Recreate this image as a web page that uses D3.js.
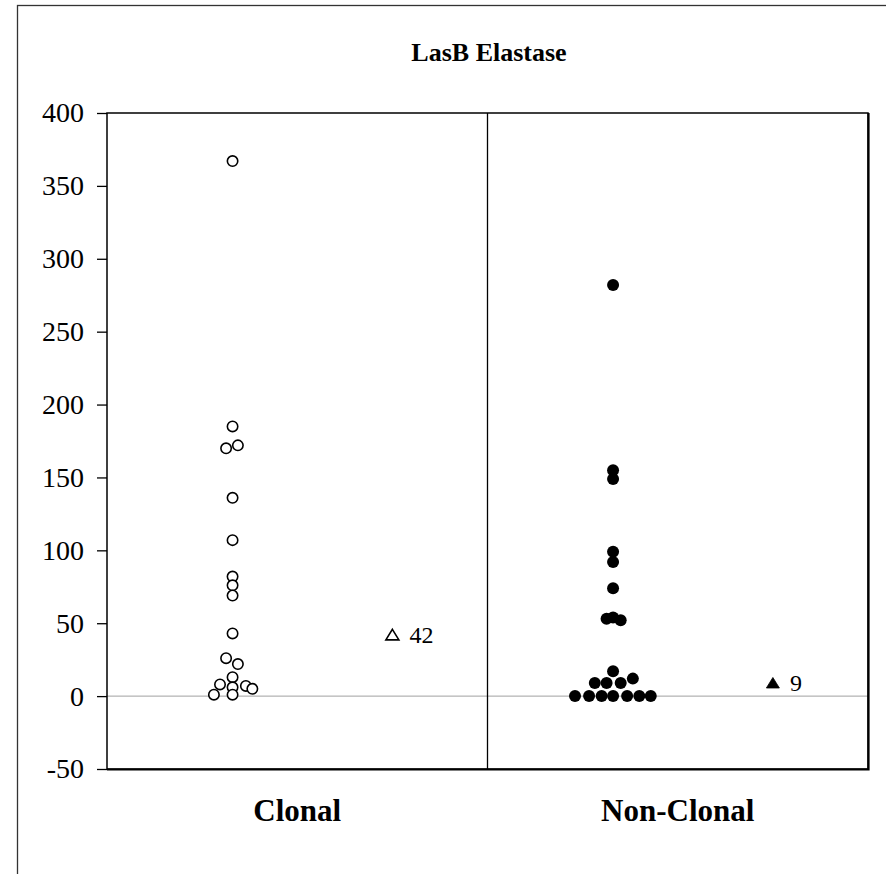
<!DOCTYPE html>
<html>
<head>
<meta charset="utf-8">
<script src="https://cdn.jsdelivr.net/npm/d3@7"></script>
<style>
  html, body { margin: 0; padding: 0; background: #fff; }
  svg { display: block; }
  text { font-family: "Liberation Serif", "Times New Roman", serif; fill: #000; }
</style>
</head>
<body>
<svg id="chart" width="886" height="874"></svg>
<script>
// LasB elastase activity per isolate, plotted on a 0–2 x range (one unit per group)
const title = "LasB Elastase";
const groups = ["Clonal", "Non-Clonal"];
const yTicks = [-50, 0, 50, 100, 150, 200, 250, 300, 350, 400];

// Clonal isolates: x position (jittered around 0.33) and value
const clonalX = [0.33, 0.33, 0.313, 0.344, 0.33, 0.33, 0.33, 0.33, 0.33, 0.33,
                 0.313, 0.344, 0.33, 0.297, 0.33, 0.365, 0.382, 0.281, 0.33];
const clonalY = [367, 185, 170, 172, 136, 107, 82, 76, 69, 43,
                 26, 22, 13, 8, 6, 7, 5, 1, 1];

// Non-clonal isolates: x position (jittered around 1.33) and value
const nonClonalX = [1.33, 1.33, 1.33, 1.33, 1.33, 1.33, 1.313, 1.33, 1.35, 1.33,
                    1.282, 1.313, 1.35, 1.382,
                    1.23, 1.267, 1.30, 1.33, 1.367, 1.399, 1.429];
const nonClonalY = [282, 155, 149, 99, 92, 74, 53, 54, 52, 17,
                    9, 9, 9, 12,
                    0, 0, 0, 0, 0, 0, 0];

// Group medians shown as triangles with their value
const medianX = [0.75, 1.75];
const medianY = [42, 9];
const medianLabels = ["42", "9"];

const svg = d3.select("#chart");

// Outer chart frame (runs off the right and bottom of the page)
svg.append("rect")
  .attr("x", 17.5).attr("y", 5.5)
  .attr("width", 900).attr("height", 900)
  .attr("fill", "none").attr("stroke", "#333").attr("stroke-width", 1.3);

const plot = { left: 107, right: 868, top: 113, bottom: 769 };

const x = d3.scaleLinear().domain([0, 2]).range([plot.left, plot.right]);
const y = d3.scaleLinear().domain([-50, 400]).range([plot.bottom, plot.top]);

// Zero reference line
svg.append("line")
  .attr("x1", x(0)).attr("x2", x(2))
  .attr("y1", y(0)).attr("y2", y(0))
  .attr("stroke", "#a0a0a0").attr("stroke-width", 1);

// Divider between the two groups
svg.append("line")
  .attr("x1", x(1)).attr("x2", x(1))
  .attr("y1", y(400)).attr("y2", y(-50))
  .attr("stroke", "#000").attr("stroke-width", 1.3);

// Plot area border
svg.append("rect")
  .attr("x", plot.left).attr("y", plot.top)
  .attr("width", plot.right - plot.left).attr("height", plot.bottom - plot.top)
  .attr("fill", "none").attr("stroke", "#000").attr("stroke-width", 1.5);
svg.append("path")
  .attr("d", `M${plot.left},${plot.bottom + 0.5}H${plot.right + 0.5}V${plot.top}`)
  .attr("fill", "none").attr("stroke", "#000").attr("stroke-width", 2.2);

// Y axis (plain hyphen for negatives)
const yAxis = d3.axisLeft(y)
  .tickValues(yTicks)
  .tickSize(10)
  .tickPadding(13)
  .tickFormat(d => String(d));
const gy = svg.append("g")
  .attr("transform", `translate(${plot.left},0)`)
  .call(yAxis);
gy.select(".domain").remove();
gy.selectAll(".tick line").attr("stroke", "#000").attr("stroke-width", 1.3);
gy.selectAll(".tick text")
  .style("font-family", '"Liberation Serif", "Times New Roman", serif')
  .attr("font-size", 28)
  .attr("fill", "#000");

// Title
svg.append("text")
  .attr("x", 489).attr("y", 61)
  .attr("text-anchor", "middle")
  .attr("font-size", 26).attr("font-weight", "bold")
  .text(title);

// Group labels under the plot
svg.selectAll("text.group")
  .data(groups)
  .join("text")
  .attr("class", "group")
  .attr("x", (d, i) => x(i + 0.5))
  .attr("y", 821)
  .attr("text-anchor", "middle")
  .attr("font-size", 31).attr("font-weight", "bold")
  .text(d => d);

// Clonal isolates: open circles
svg.append("g")
  .selectAll("circle")
  .data(d3.zip(clonalX, clonalY))
  .join("circle")
  .attr("cx", d => x(d[0]))
  .attr("cy", d => y(d[1]))
  .attr("r", 5.2)
  .attr("fill", "#fff")
  .attr("stroke", "#000")
  .attr("stroke-width", 1.6);

// Non-clonal isolates: filled circles
svg.append("g")
  .selectAll("circle")
  .data(d3.zip(nonClonalX, nonClonalY))
  .join("circle")
  .attr("cx", d => x(d[0]))
  .attr("cy", d => y(d[1]))
  .attr("r", 6)
  .attr("fill", "#000");

// Median markers
const tri = (cx, cy) => `M${cx},${cy - 5.5}L${cx + 6.5},${cy + 5}L${cx - 6.5},${cy + 5}Z`;
medianX.forEach((mx, i) => {
  svg.append("path")
    .attr("d", tri(x(mx), y(medianY[i])))
    .attr("fill", i === 0 ? "#fff" : "#000")
    .attr("stroke", "#000")
    .attr("stroke-width", i === 0 ? 1.6 : 0.8)
    .attr("stroke-linejoin", "miter");
  svg.append("text")
    .attr("x", x(mx) + 17)
    .attr("y", y(medianY[i]) + 8)
    .attr("font-size", 24)
    .text(medianLabels[i]);
});
</script>
</body>
</html>
